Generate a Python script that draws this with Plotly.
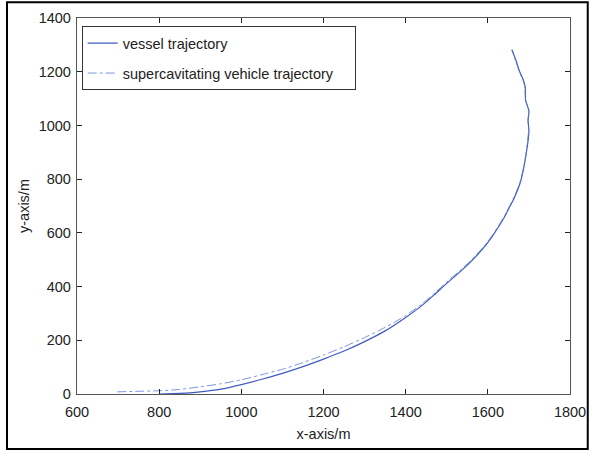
import plotly.graph_objects as go

# Vessel trajectory (solid line)
vessel_x = [800, 850, 900, 950, 1000, 1050, 1100, 1150, 1200, 1250, 1300, 1350, 1400,
            1440, 1470, 1500, 1530, 1560, 1590, 1610, 1625, 1640, 1653, 1665, 1678, 1686,
            1692, 1698, 1700, 1698, 1700, 1692, 1691, 1687, 1678, 1670, 1659]
vessel_y = [0, 2, 8, 18, 35, 55, 77, 102, 130, 160, 195, 235, 285,
            330, 370, 412, 452, 495, 545, 585, 620, 657, 696, 733, 783, 832,
            882, 944, 981, 1018, 1055, 1093, 1142, 1167, 1198, 1235, 1282]

# Supercavitating vehicle trajectory (dash-dot line)
vehicle_x = [698, 750, 800, 850, 900, 950, 1000, 1050, 1100, 1150, 1200, 1250, 1300,
             1350, 1400, 1440, 1470, 1500, 1530, 1560, 1590, 1610, 1625, 1640, 1653, 1665,
             1678, 1686, 1692, 1697, 1699, 1698, 1699, 1692, 1690, 1686, 1677, 1669, 1658]
vehicle_y = [8, 10, 12, 17, 27, 38, 53, 72, 92, 117, 145, 176, 210,
             248, 292, 336, 375, 417, 457, 499, 549, 589, 624, 661, 700, 737,
             787, 836, 885, 944, 981, 1018, 1055, 1093, 1142, 1167, 1198, 1235, 1282]

x_ticks = [600, 800, 1000, 1200, 1400, 1600, 1800]
y_ticks = [0, 200, 400, 600, 800, 1000, 1200, 1400]

LINE_BLUE = "#3f5cc0"
FONT = "Liberation Sans, Arial, sans-serif"
FS = 14.5
TXT = "#222222"
PAD = "\u00a0" * 4  # right padding inside the legend box

fig = go.Figure()
fig.add_trace(go.Scatter(
    x=vessel_x, y=vessel_y, mode="lines", name="vessel trajectory",
    line=dict(color=LINE_BLUE, width=1.2, shape="spline", smoothing=0.6),
    legendgroup="a",
))
fig.add_trace(go.Scatter(
    x=vehicle_x, y=vehicle_y, mode="lines",
    name="supercavitating vehicle trajectory" + PAD,
    line=dict(color="#5b78d0", width=0.8, dash="dashdot", shape="spline", smoothing=0.6),
    legendgroup="b",
))

axis_common = dict(
    showgrid=False, zeroline=False, showline=True, linecolor="#555555", linewidth=1.3,
    mirror="ticks", ticks="inside", ticklen=5, tickcolor=TXT, tickwidth=1,
    tickfont=dict(family=FONT, size=FS, color=TXT), automargin=False,
)

fig.update_xaxes(range=[600, 1800], tickvals=x_ticks, ticklabelstandoff=4,
                 title=dict(text="x-axis/m", font=dict(family=FONT, size=FS, color=TXT),
                            standoff=10),
                 **axis_common)
fig.update_yaxes(range=[0, 1400], tickvals=y_ticks, ticklabelstandoff=2,
                 title=dict(text="y-axis/m", font=dict(family=FONT, size=FS, color=TXT),
                            standoff=5),
                 **axis_common)

# Outer frame around the whole figure
fig.add_shape(type="rect", xref="paper", yref="paper",
              x0=-0.142, x1=1.036, y0=-0.146, y1=1.042,
              line=dict(color="black", width=2), layer="below")

fig.update_layout(
    width=595, height=451,
    margin=dict(l=77, r=25, t=18, b=57, autoexpand=False),
    paper_bgcolor="white", plot_bgcolor="white",
    font=dict(family=FONT, size=FS, color=TXT),
    showlegend=True,
    legend=dict(
        x=0.0095, y=0.978, xanchor="left", yanchor="top",
        bgcolor="white", bordercolor="#333333", borderwidth=1,
        font=dict(family=FONT, size=FS, color=TXT),
        traceorder="grouped", tracegroupgap=8,
    ),
)

fig.write_html("out.html")
